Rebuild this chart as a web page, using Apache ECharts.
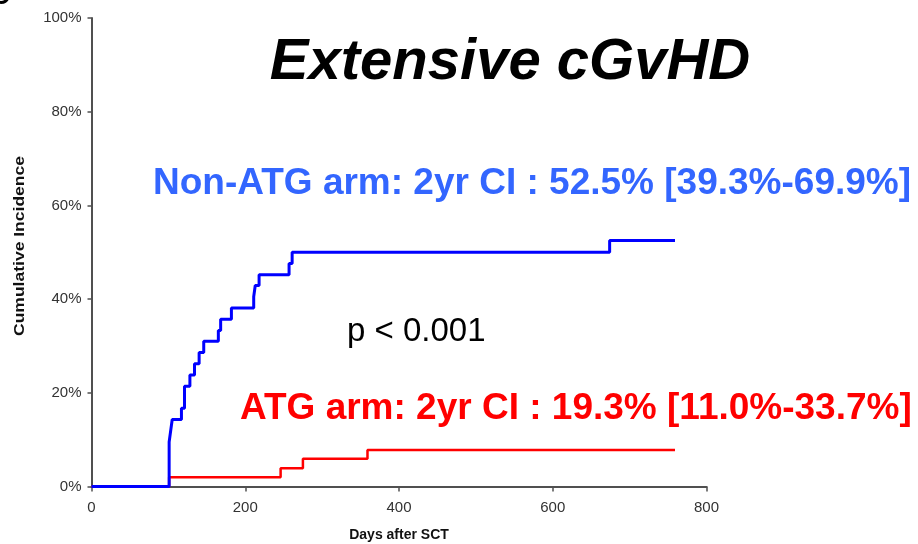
<!DOCTYPE html>
<html>
<head>
<meta charset="utf-8">
<script src="https://cdn.jsdelivr.net/npm/echarts@6/dist/echarts.min.js"></script>
<style>
  html, body { margin: 0; padding: 0; background: #fff; }
  #chart { width: 918px; height: 544px; }
</style>
</head>
<body>
<div id="chart"></div>
<script>
// Cumulative incidence of extensive chronic GvHD by study arm (step curves)
const nonAtgDays = [0, 101, 103, 105, 117, 121, 128, 134, 140, 146, 165, 168, 182, 211, 213, 218, 257, 261, 674, 759];
const nonAtgPct  = [0, 9.5, 11.9, 14.3, 16.7, 21.4, 23.8, 26.2, 28.6, 31.0, 33.3, 35.7, 38.1, 40.5, 42.9, 45.2, 47.6, 50.0, 52.5, 52.5];

const atgDays = [0, 101, 246, 275, 359, 759];
const atgPct  = [0, 2.0, 3.9, 5.9, 7.8, 7.8];

const xTicks = [0, 200, 400, 600, 800];
const yTicks = [0, 20, 40, 60, 80, 100];

const titleText = 'Extensive cGvHD';
const nonAtgLabel = 'Non-ATG arm: 2yr CI : 52.5% [39.3%-69.9%]';
const atgLabel = 'ATG arm: 2yr CI : 19.3% [11.0%-33.7%]';
const pLabel = 'p < 0.001';

const FONT = '"Liberation Sans", Arial, sans-serif';

function pairs(xs, ys) {
  return xs.map((x, i) => [x, ys[i]]);
}

const chart = echarts.init(document.getElementById('chart'), null, { renderer: 'canvas' });

chart.setOption({
  animation: false,
  backgroundColor: '#ffffff',
  grid: { left: 91.5, right: 211.5, top: 18, bottom: 57.5 },
  xAxis: {
    type: 'value',
    min: xTicks[0],
    max: xTicks[xTicks.length - 1],
    interval: xTicks[1] - xTicks[0],
    splitLine: { show: false },
    axisLine: { show: true, onZero: false, lineStyle: { color: '#505050', width: 2 } },
    axisTick: { show: true, inside: false, length: 5, lineStyle: { color: '#505050', width: 1.5 } },
    axisLabel: { color: '#333', fontSize: 15, fontFamily: FONT, margin: 14 }
  },
  yAxis: {
    type: 'value',
    min: yTicks[0],
    max: yTicks[yTicks.length - 1],
    interval: yTicks[1] - yTicks[0],
    splitLine: { show: false },
    axisLine: { show: true, lineStyle: { color: '#505050', width: 2 } },
    axisTick: { show: true, inside: false, length: 4, lineStyle: { color: '#505050', width: 1.5 } },
    axisLabel: { color: '#333', fontSize: 15, fontFamily: FONT, margin: 10, formatter: '{value}%' }
  },
  series: [
    {
      name: 'ATG arm',
      type: 'line',
      step: 'end',
      data: pairs(atgDays, atgPct),
      showSymbol: false,
      lineStyle: { color: '#ff0000', width: 2.5 },
      z: 3
    },
    {
      name: 'Non-ATG arm',
      type: 'line',
      step: 'end',
      data: pairs(nonAtgDays, nonAtgPct),
      showSymbol: false,
      lineStyle: { color: '#0000ff', width: 3 },
      z: 4
    }
  ],
  graphic: [
    {
      type: 'text', x: -9, y: -16,
      style: { text: 'C', fontSize: 26, fontWeight: 'bold', fontFamily: FONT, fill: '#000' }
    },
    {
      type: 'text', x: 510, y: 63,
      style: { text: titleText, fontSize: 58, fontWeight: 'bold', fontStyle: 'italic', fontFamily: FONT,
               fill: '#000', align: 'center', verticalAlign: 'middle' }
    },
    {
      type: 'text', x: 153, y: 184,
      style: { text: nonAtgLabel, fontSize: 37, fontWeight: 'bold', fontFamily: FONT,
               fill: '#3366ff', align: 'left', verticalAlign: 'middle' }
    },
    {
      type: 'text', x: 347, y: 332,
      style: { text: pLabel, fontSize: 33, fontFamily: FONT,
               fill: '#000', align: 'left', verticalAlign: 'middle' }
    },
    {
      type: 'text', x: 240, y: 409,
      style: { text: atgLabel, fontSize: 37, fontWeight: 'bold', fontFamily: FONT,
               fill: '#ff0000', align: 'left', verticalAlign: 'middle' }
    },
    {
      type: 'text', x: 20, y: 246, rotation: Math.PI / 2, scaleX: 1.25,
      style: { text: 'Cumulative Incidence', fontSize: 14, fontWeight: 'bold', fontFamily: FONT,
               fill: '#111', align: 'center', verticalAlign: 'middle' }
    },
    {
      type: 'text', x: 399, y: 535,
      style: { text: 'Days after SCT', fontSize: 14, fontWeight: 'bold', fontFamily: FONT,
               fill: '#111', align: 'center', verticalAlign: 'middle' }
    }
  ]
});
</script>
</body>
</html>
